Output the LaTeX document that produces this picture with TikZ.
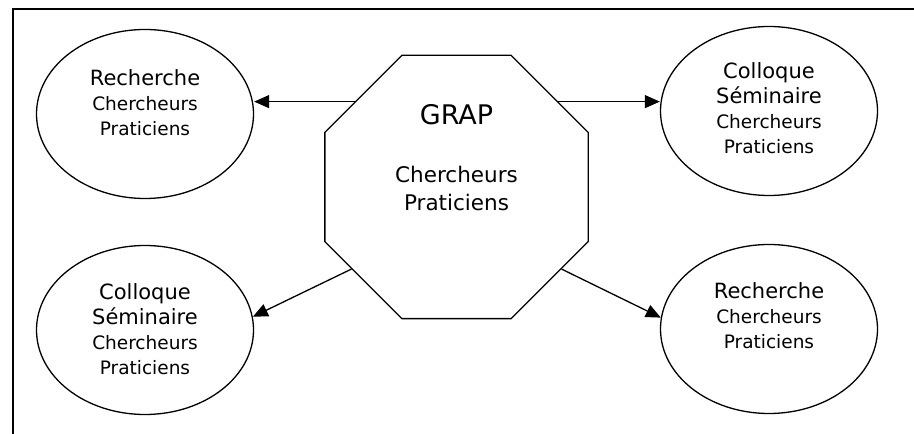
\documentclass[tikz,border=0pt]{standalone}
\usepackage{fontspec}
\setmainfont{DejaVu Sans}
\usetikzlibrary{shapes,arrows.meta}

\newcommand{\grand}[1]{{\fontsize{21}{25}\selectfont #1}}

\begin{document}
\begin{tikzpicture}[x=1pt,y=1pt,
  bulle/.style={draw, ellipse, line width=1.3pt, minimum width=217pt, minimum height=169pt, inner sep=0pt},
  texte/.style={align=center, anchor=north, inner sep=0pt, font=\fontsize{18.5}{25}\selectfont},
  fleche/.style={-{Triangle[length=15pt,width=13pt]}, line width=1.3pt}]
  \useasboundingbox (0,0) rectangle (914,434);
  \draw[line width=1.5pt] (13,0) -- (13,425) -- (914,425);

  \node[draw, regular polygon, regular polygon sides=8,
    minimum size=285pt, line width=1.3pt] (grap) at (456.5,247) {};
  \node[texte, font=\fontsize{21.5}{28}\selectfont] (graptxt) at ([yshift=-50pt]grap.north)
    {{\fontsize{27}{32}\selectfont GRAP}\\[30pt] Chercheurs\\Praticiens};

  \node[bulle] (rech1) at (145,320) {};
  \node[texte] (rech1txt) at ([yshift=-40pt]rech1.north) {\grand{Recherche}\\Chercheurs\\Praticiens};
  \node[bulle] (coll1) at (769,323) {};
  \node[texte] (coll1txt) at ([yshift=-36pt]coll1.north) {\grand{Colloque}\\\grand{Séminaire}\\Chercheurs\\Praticiens};
  \node[bulle] (coll2) at (145,104) {};
  \node[texte] (coll2txt) at ([yshift=-38pt]coll2.north) {\grand{Colloque}\\\grand{Séminaire}\\Chercheurs\\Praticiens};
  \node[bulle] (rech2) at (769,105) {};
  \node[texte] (rech2txt) at ([yshift=-38pt]rech2.north) {\grand{Recherche}\\Chercheurs\\Praticiens};

  \draw[fleche] (grap.140) -- (grap.140 -| rech1.east);
  \draw[fleche] (grap.40) -- (grap.40 -| coll1.west);
  \draw[fleche] (grap.218) -- (coll2.7);
  \draw[fleche] (grap.322) -- (rech2.174);
\end{tikzpicture}
\end{document}
